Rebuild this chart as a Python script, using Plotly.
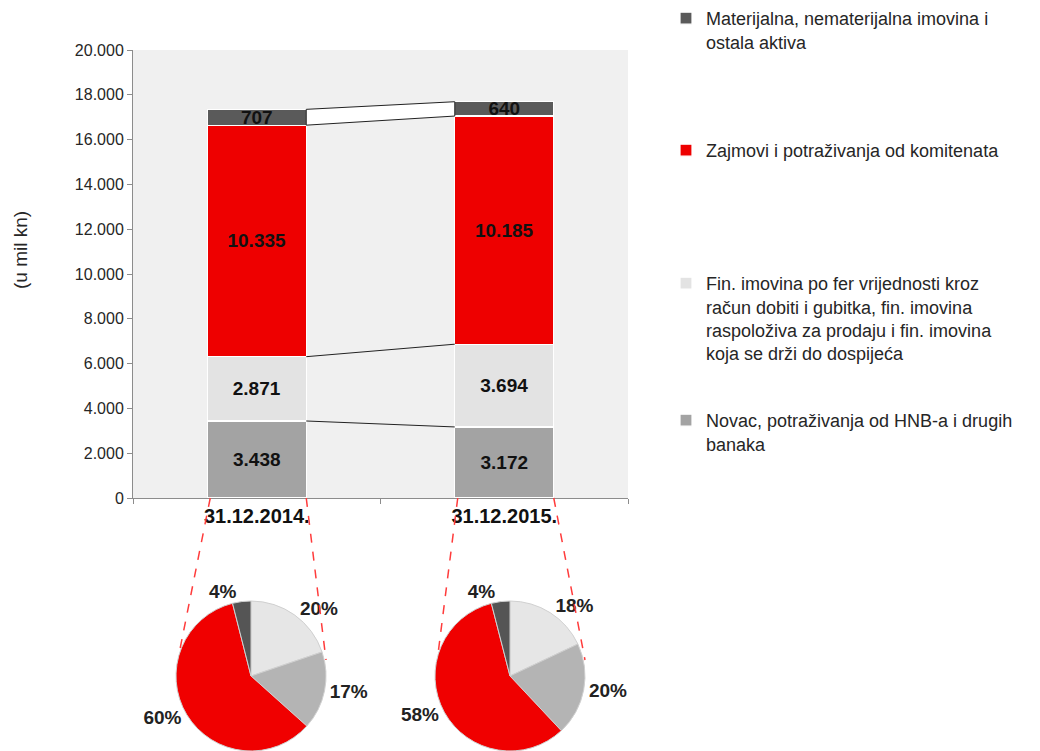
import plotly.graph_objects as go

# ---------------- data ----------------
categories = ["31.12.2014.", "31.12.2015."]
novac = [3438, 3172]
fin_imovina = [2871, 3694]
zajmovi = [10335, 10185]
materijalna = [707, 640]

series_names = [
    "Novac, potraživanja od HNB-a i drugih<br>banaka",
    "Fin. imovina po fer vrijednosti kroz<br>račun dobiti i gubitka, fin. imovina<br>raspoloživa za prodaju i fin. imovina<br>koja se drži do dospijeća",
    "Zajmovi i potraživanja od komitenata",
    "Materijalna, nematerijalna imovina i<br>ostala aktiva",
]
y_ticks = [0, 2000, 4000, 6000, 8000, 10000, 12000, 14000, 16000, 18000, 20000]
y_title = "(u mil kn)"

# pie shares (clockwise from 12 o'clock), as printed on the chart
pie_2014 = [20, 17, 60, 4]
pie_2015 = [18, 20, 58, 4]

# ---------------- styling ----------------
W, H = 1040, 751
PX_L, PX_R, PX_T, PX_B = 133, 628, 50, 498
bar_colors = ["#a3a3a3", "#e3e3e3", "#ee0000", "#5a5a5a"]
pie_colors = ["#e6e6e6", "#b4b4b4", "#f00000", "#555555"]
BAR_W = 0.4
FONT = "Liberation Sans, Arial, sans-serif"

def px_x(p):
    return p / W

def px_y(p):
    return 1 - p / H

fig = go.Figure()

series = [novac, fin_imovina, zajmovi, materijalna]
legend_ids = ["legend4", "legend3", "legend2", "legend"]
for vals, name, col, lg in zip(series, series_names, bar_colors, legend_ids):
    fig.add_trace(go.Bar(
        x=categories, y=vals, name=name, width=BAR_W,
        marker=dict(color=col, line=dict(color="#ffffff", width=1.2)),
        texttemplate="<b>%{y:,.0f}</b>", textposition="inside",
        insidetextanchor="middle", constraintext="none",
        textfont=dict(family=FONT, size=19, color="#111111"),
        legend=lg, hoverinfo="skip",
    ))

# connector lines between the bars (on a numeric overlay axis)
cum1, cum2 = [], []
s1 = s2 = 0
for vals in series:
    s1 += vals[0]
    s2 += vals[1]
    cum1.append(s1)
    cum2.append(s2)

fig.add_trace(go.Scatter(
    x=[BAR_W / 2, 1 - BAR_W / 2, 1 - BAR_W / 2, BAR_W / 2, BAR_W / 2],
    y=[cum1[2], cum2[2], cum2[3], cum1[3], cum1[2]],
    xaxis="x2", yaxis="y", mode="lines", fill="toself",
    fillcolor="#ffffff", line=dict(color="#222222", width=1),
    showlegend=False, hoverinfo="skip",
))
for a, b in zip(cum1[:2], cum2[:2]):
    fig.add_trace(go.Scatter(
        x=[BAR_W / 2, 1 - BAR_W / 2], y=[a, b], xaxis="x2", yaxis="y",
        mode="lines", line=dict(color="#222222", width=1),
        showlegend=False, hoverinfo="skip",
    ))

# pies
R = 75
pie_centers = [(251, 676), (510, 676)]
for vals, (cx, cy) in zip([pie_2014, pie_2015], pie_centers):
    fig.add_trace(go.Pie(
        values=vals, sort=False, direction="clockwise", rotation=0,
        marker=dict(colors=pie_colors, line=dict(color="#d0d0d0", width=1)),
        text=[f"{v}%" for v in vals], texttemplate="<b>%{text}</b>",
        textposition="outside", textfont=dict(family=FONT, size=19, color="#222222"),
        domain=dict(x=[px_x(cx - R), px_x(cx + R)], y=[max(0, px_y(cy + R)), px_y(cy - R)]),
        showlegend=False, hoverinfo="skip", automargin=False,
    ))

# dashed red guide lines from bar bottoms to pies
cat_w = (PX_R - PX_L) / 2
for i, (cx, cy) in enumerate(pie_centers):
    cc = PX_L + cat_w * (i + 0.5)
    left = cc - BAR_W * cat_w / 2
    right = cc + BAR_W * cat_w / 2
    fig.add_shape(type="line", xref="paper", yref="paper",
                  x0=px_x(left + 3), y0=px_y(PX_B), x1=px_x(cx - R + 3), y1=px_y(cy - 22),
                  line=dict(color="#ff3b3b", width=1.5, dash="dash"))
    fig.add_shape(type="line", xref="paper", yref="paper",
                  x0=px_x(right), y0=px_y(PX_B), x1=px_x(cx + R), y1=px_y(cy - 16),
                  line=dict(color="#ff3b3b", width=1.5, dash="dash"))

# y-axis title
fig.add_annotation(
    text=y_title, xref="paper", yref="paper", x=px_x(21), y=px_y(250),
    xanchor="center", yanchor="middle", textangle=-90, showarrow=False,
    font=dict(family=FONT, size=19, color="#262626"),
)

legend_common = dict(
    xref="paper", yref="paper", xanchor="left", yanchor="top",
    bgcolor="rgba(0,0,0,0)", font=dict(family=FONT, size=18, color="#262626"),
    itemwidth=30, valign="top", tracegroupgap=0, itemclick=False, itemdoubleclick=False,
)
lx = px_x(666)
fig.update_layout(
    width=W, height=H,
    margin=dict(l=0, r=0, t=0, b=0),
    paper_bgcolor="#ffffff",
    plot_bgcolor="#f0f0f0",
    barmode="stack",
    separators=",.",
    font=dict(family=FONT, color="#262626"),
    xaxis=dict(
        domain=[px_x(PX_L), px_x(PX_R)], type="category",
        showline=True, linecolor="#8c8c8c", linewidth=1,
        ticks="outside", tickson="boundaries", ticklen=5, tickcolor="#8c8c8c",
        tickfont=dict(family=FONT, size=20, color="#111111"),
        showgrid=False, automargin=False, fixedrange=True,
        tickprefix="<b>", ticksuffix="</b>",
    ),
    xaxis2=dict(
        overlaying="x", range=[-0.5, 1.5], visible=False, fixedrange=True,
    ),
    yaxis=dict(
        domain=[px_y(PX_B), px_y(PX_T)], range=[0, 20000],
        tickvals=y_ticks, tickformat=",.0f",
        showline=True, linecolor="#8c8c8c", linewidth=1,
        ticks="outside", ticklen=5, tickcolor="#8c8c8c",
        tickfont=dict(family=FONT, size=16, color="#262626"),
        showgrid=False, zeroline=False, automargin=False, fixedrange=True,
    ),
    legend=dict(x=lx, y=1.0, **legend_common),
    legend2=dict(x=lx, y=px_y(132), **legend_common),
    legend3=dict(x=lx, y=px_y(265), **legend_common),
    legend4=dict(x=lx, y=px_y(402), **legend_common),
    showlegend=True,
)

fig.write_html(
    "out.html",
    config={"displayModeBar": False},
    post_script="document.body.style.margin='0';document.body.style.overflow='hidden';",
)
